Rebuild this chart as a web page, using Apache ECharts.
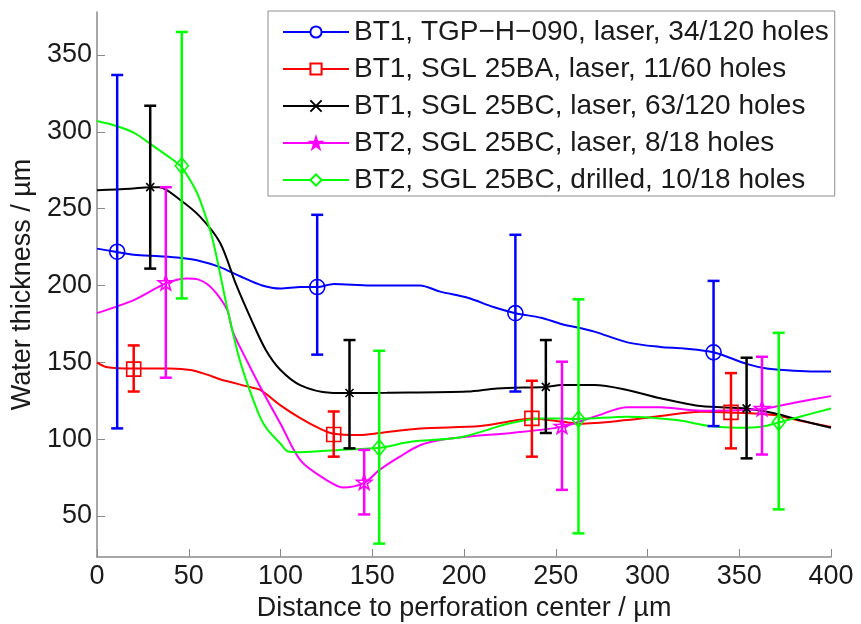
<!DOCTYPE html>
<html lang="en">
<head>
    <meta charset="UTF-8">
    <title>Water thickness</title>
    <script src="https://cdn.jsdelivr.net/npm/echarts@6/dist/echarts.min.js"></script>
    <style>
        body{
            margin: 0;
            background-color: #ffffff;
        }
        #chart{
            width: 861px;
            height: 624px;
        }
    </style>
</head>
<body>
<div id="chart"></div>
<script>
    // legend names and colours
    var names = [
        'BT1, TGP\u2212H\u2212090, laser, 34/120 holes',
        'BT1, SGL 25BA, laser, 11/60 holes',
        'BT1, SGL 25BC, laser, 63/120 holes',
        'BT2, SGL 25BC, laser, 8/18 holes',
        'BT2, SGL 25BC, drilled, 10/18 holes'
    ];
    var colors = ['#0000ff', '#ff0000', '#000000', '#ff00ff', '#00ff00'];

    // fitted curves
    var blueX = [0, 10, 20, 34, 45, 56, 67, 78, 90, 100, 111, 120, 129, 149, 176, 187, 202, 216, 228, 242, 253, 271, 289, 307, 320, 336, 354, 365, 380, 391, 400];
    var blueY = [224, 222, 220, 219, 218, 216, 212, 206, 200, 198, 199, 199, 201, 200, 200, 196, 192, 186, 182, 179, 175, 170, 163, 160, 159, 156.5, 149, 146, 144.5, 144, 144];
    var redX = [0, 5, 20, 40, 51, 60, 67, 83, 89, 100, 111, 122, 129, 143, 154, 176, 209, 227, 237, 253, 263, 289, 307, 329, 345, 369, 383, 400];
    var redY = [150, 147, 146, 146, 145, 142, 139, 134, 132, 122, 113.5, 106.5, 103.5, 102.7, 104, 107, 108.5, 112, 113.5, 111.5, 110, 112.4, 115, 117.8, 117.4, 115.7, 112, 108];
    var blackX = [0, 18, 29, 34, 45, 56, 67, 76, 84, 92, 100, 111, 127, 138, 158, 202, 218, 245, 253, 271, 289, 307, 329, 354, 369, 383, 400];
    var blackY = [262, 263, 264, 264, 256, 245, 228, 200, 178, 158, 145, 135, 130.2, 130, 130.2, 131, 133, 134, 135.2, 135.2, 132, 126.6, 121.5, 120, 116.8, 112.4, 107.4];
    var magentaX = [0, 20, 37.5, 49, 55, 60, 65, 71, 74, 80, 89, 100, 111, 125, 134, 145.6, 154, 165, 176, 187, 202, 227, 253, 271, 289, 307, 329, 362, 380, 400];
    var magentaY = [182, 190.5, 201.4, 204.6, 204, 201, 195, 184, 170, 155, 134, 110, 86, 73.4, 68.6, 71.6, 80, 88.6, 96, 99.4, 101.6, 104.2, 108, 114.6, 120.7, 120.7, 118.5, 119.6, 123.7, 128];
    var greenX = [0, 10, 20, 27, 34, 40, 46, 52, 56, 63, 71, 77, 82, 89, 93, 100, 104, 111, 132, 154, 171, 198, 225, 242, 253, 262, 289, 316, 334, 349, 362, 372, 383, 400];
    var greenY = [307, 304, 299.5, 294, 288, 283, 277, 266, 256, 230, 185, 155, 136, 114, 106, 97, 92, 91.5, 93, 94.4, 98.3, 101.2, 110.3, 113.5, 113.5, 113.1, 114.6, 112.4, 108.5, 107.4, 108.1, 111, 114.6, 120];

    // measured points with error bars
    var blueMarkX = [11, 120, 228, 336];
    var blueMarkY = [222, 199, 182, 156.5];
    var blueLow = [107, 155, 131, 108.5];
    var blueHigh = [337, 246, 233, 203];
    var redMarkX = [20, 129, 237, 345.5];
    var redMarkY = [145.6, 103, 113.5, 117.4];
    var redLow = [131, 88.6, 88.6, 94];
    var redHigh = [161, 118, 138, 143];
    var blackMarkX = [29, 137.6, 244.6, 354];
    var blackMarkY = [264, 130, 134, 120];
    var blackLow = [211, 94, 104, 87.5];
    var blackHigh = [317, 164.5, 164.5, 153];
    var magentaMarkX = [37.5, 145.6, 253.4, 362.4];
    var magentaMarkY = [201.4, 71.6, 108, 119.6];
    var magentaLow = [140, 51, 67, 90];
    var magentaHigh = [264, 93, 150.4, 153.6];
    var greenMarkX = [46.2, 153.8, 262.4, 371.5];
    var greenMarkY = [278, 94.4, 113, 111];
    var greenLow = [191.6, 32, 38.7, 54.3];
    var greenHigh = [365, 157.5, 191, 169.2];

    var yTicks = [50, 100, 150, 200, 250, 300, 350];

    var curves = [[blueX, blueY], [redX, redY], [blackX, blackY], [magentaX, magentaY], [greenX, greenY]];
    var marks = [
        [blueMarkX, blueMarkY, blueLow, blueHigh],
        [redMarkX, redMarkY, redLow, redHigh],
        [blackMarkX, blackMarkY, blackLow, blackHigh],
        [magentaMarkX, magentaMarkY, magentaLow, magentaHigh],
        [greenMarkX, greenMarkY, greenLow, greenHigh]
    ];
    var markerKinds = ['circle', 'square', 'cross', 'star', 'diamond'];

    var starPath = 'path://M50 0L61.23 34.55L97.55 34.55L68.17 55.9L79.39 90.45L50 69.1L20.61 90.45L31.83 55.9L2.45 34.55L38.77 34.55Z';
    var crossPath = 'path://M0 0L10 10M10 0L0 10';
    var legendSymbols = ['emptyCircle', 'emptyRect', crossPath, starPath, 'emptyDiamond'];
    var legendSizes = [12, 10, 7, 13, [11, 15]];

    var font = "'Liberation Sans', Arial, sans-serif";

    function zip(a, b) {
        var out = [];
        for (var i = 0; i < a.length; i++) {
            out.push([a[i], b[i]]);
        }
        return out;
    }

    function markerShape(kind, c, color) {
        var st = {stroke: color, lineWidth: 1.6, fill: 'none'};
        var x = c[0], y = c[1];
        if (kind === 'circle') {
            return {type: 'circle', shape: {cx: x, cy: y, r: 7.5}, style: st};
        }
        if (kind === 'square') {
            return {type: 'rect', shape: {x: x - 7, y: y - 7, width: 14, height: 14}, style: st};
        }
        if (kind === 'diamond') {
            return {type: 'polygon', shape: {points: [[x, y - 8], [x + 6.5, y], [x, y + 8], [x - 6.5, y]]}, style: st};
        }
        if (kind === 'star') {
            var pts = [];
            for (var k = 0; k < 10; k++) {
                var r = k % 2 === 0 ? 8 : 3.2;
                var a = -Math.PI / 2 + k * Math.PI / 5;
                pts.push([x + r * Math.cos(a), y + r * Math.sin(a)]);
            }
            return {type: 'polygon', shape: {points: pts}, style: st};
        }
        // cross
        return {
            type: 'group', children: [
                {type: 'line', shape: {x1: x - 4, y1: y - 4, x2: x + 4, y2: y + 4}, style: st},
                {type: 'line', shape: {x1: x - 4, y1: y + 4, x2: x + 4, y2: y - 4}, style: st}
            ]
        };
    }

    function errorBars(kind, color) {
        return function (params, api) {
            var c = api.coord([api.value(0), api.value(1)]);
            var lo = api.coord([api.value(0), api.value(2)]);
            var hi = api.coord([api.value(0), api.value(3)]);
            var cap = 6;
            var st = {stroke: color, lineWidth: 2.5};
            return {
                type: 'group',
                children: [
                    {type: 'line', shape: {x1: lo[0], y1: lo[1], x2: hi[0], y2: hi[1]}, style: st},
                    {type: 'line', shape: {x1: lo[0] - cap, y1: lo[1], x2: lo[0] + cap, y2: lo[1]}, style: st},
                    {type: 'line', shape: {x1: hi[0] - cap, y1: hi[1], x2: hi[0] + cap, y2: hi[1]}, style: st},
                    markerShape(kind, c, color)
                ]
            };
        };
    }

    var series = [];
    for (var i = 0; i < names.length; i++) {
        series.push({
            name: names[i],
            type: 'line',
            data: zip(curves[i][0], curves[i][1]),
            smooth: 0.3,
            showSymbol: false,
            symbol: legendSymbols[i],
            symbolSize: legendSizes[i],
            color: colors[i],
            lineStyle: {color: colors[i], width: 2},
            itemStyle: {color: colors[i], borderColor: colors[i], borderWidth: 1.5},
            z: 2
        });
    }
    for (var j = 0; j < names.length; j++) {
        var m = marks[j];
        var rows = [];
        for (var n = 0; n < m[0].length; n++) {
            rows.push([m[0][n], m[1][n], m[2][n], m[3][n]]);
        }
        series.push({
            name: names[j],
            type: 'custom',
            data: rows,
            renderItem: errorBars(markerKinds[j], colors[j]),
            clip: false,
            z: 3
        });
    }

    var chart = echarts.init(document.getElementById('chart'));
    chart.setOption({
        backgroundColor: '#ffffff',
        animation: false,
        textStyle: {fontFamily: font},
        grid: {left: 97, right: 30, top: 12, bottom: 67, outerBoundsMode: 'none'},
        legend: {
            orient: 'vertical',
            left: 268,
            top: 11,
            padding: [7, 6, 2, 14],
            itemWidth: 66,
            itemHeight: 14,
            itemGap: 9,
            backgroundColor: '#ffffff',
            borderColor: '#8c8c8c',
            borderWidth: 1,
            data: names,
            textStyle: {fontSize: 28, color: '#1a1a1a', fontFamily: font, lineHeight: 28}
        },
        xAxis: {
            type: 'value',
            min: 0,
            max: 400,
            interval: 50,
            name: 'Distance to perforation center / \u00b5m',
            nameLocation: 'middle',
            nameGap: 33,
            nameTextStyle: {fontSize: 27, color: '#1a1a1a', fontFamily: font},
            axisLine: {lineStyle: {color: '#8a8a8a', width: 1.5}},
            axisTick: {inside: true, length: 8, lineStyle: {color: '#8a8a8a'}},
            axisLabel: {fontSize: 27, color: '#1a1a1a', margin: 6, fontFamily: font},
            splitLine: {show: false}
        },
        yAxis: {
            type: 'value',
            min: 23.3,
            max: 378,
            name: 'Water thickness / \u00b5m',
            nameLocation: 'middle',
            nameRotate: 90,
            nameGap: 56,
            nameTextStyle: {fontSize: 27, color: '#1a1a1a', fontFamily: font},
            axisLine: {show: true, lineStyle: {color: '#8a8a8a', width: 1.5}},
            axisTick: {show: true, inside: true, length: 8, customValues: yTicks, lineStyle: {color: '#8a8a8a'}},
            axisLabel: {fontSize: 27, color: '#1a1a1a', margin: 5, customValues: yTicks, fontFamily: font},
            splitLine: {show: false}
        },
        series: series
    });
</script>
</body>
</html>
